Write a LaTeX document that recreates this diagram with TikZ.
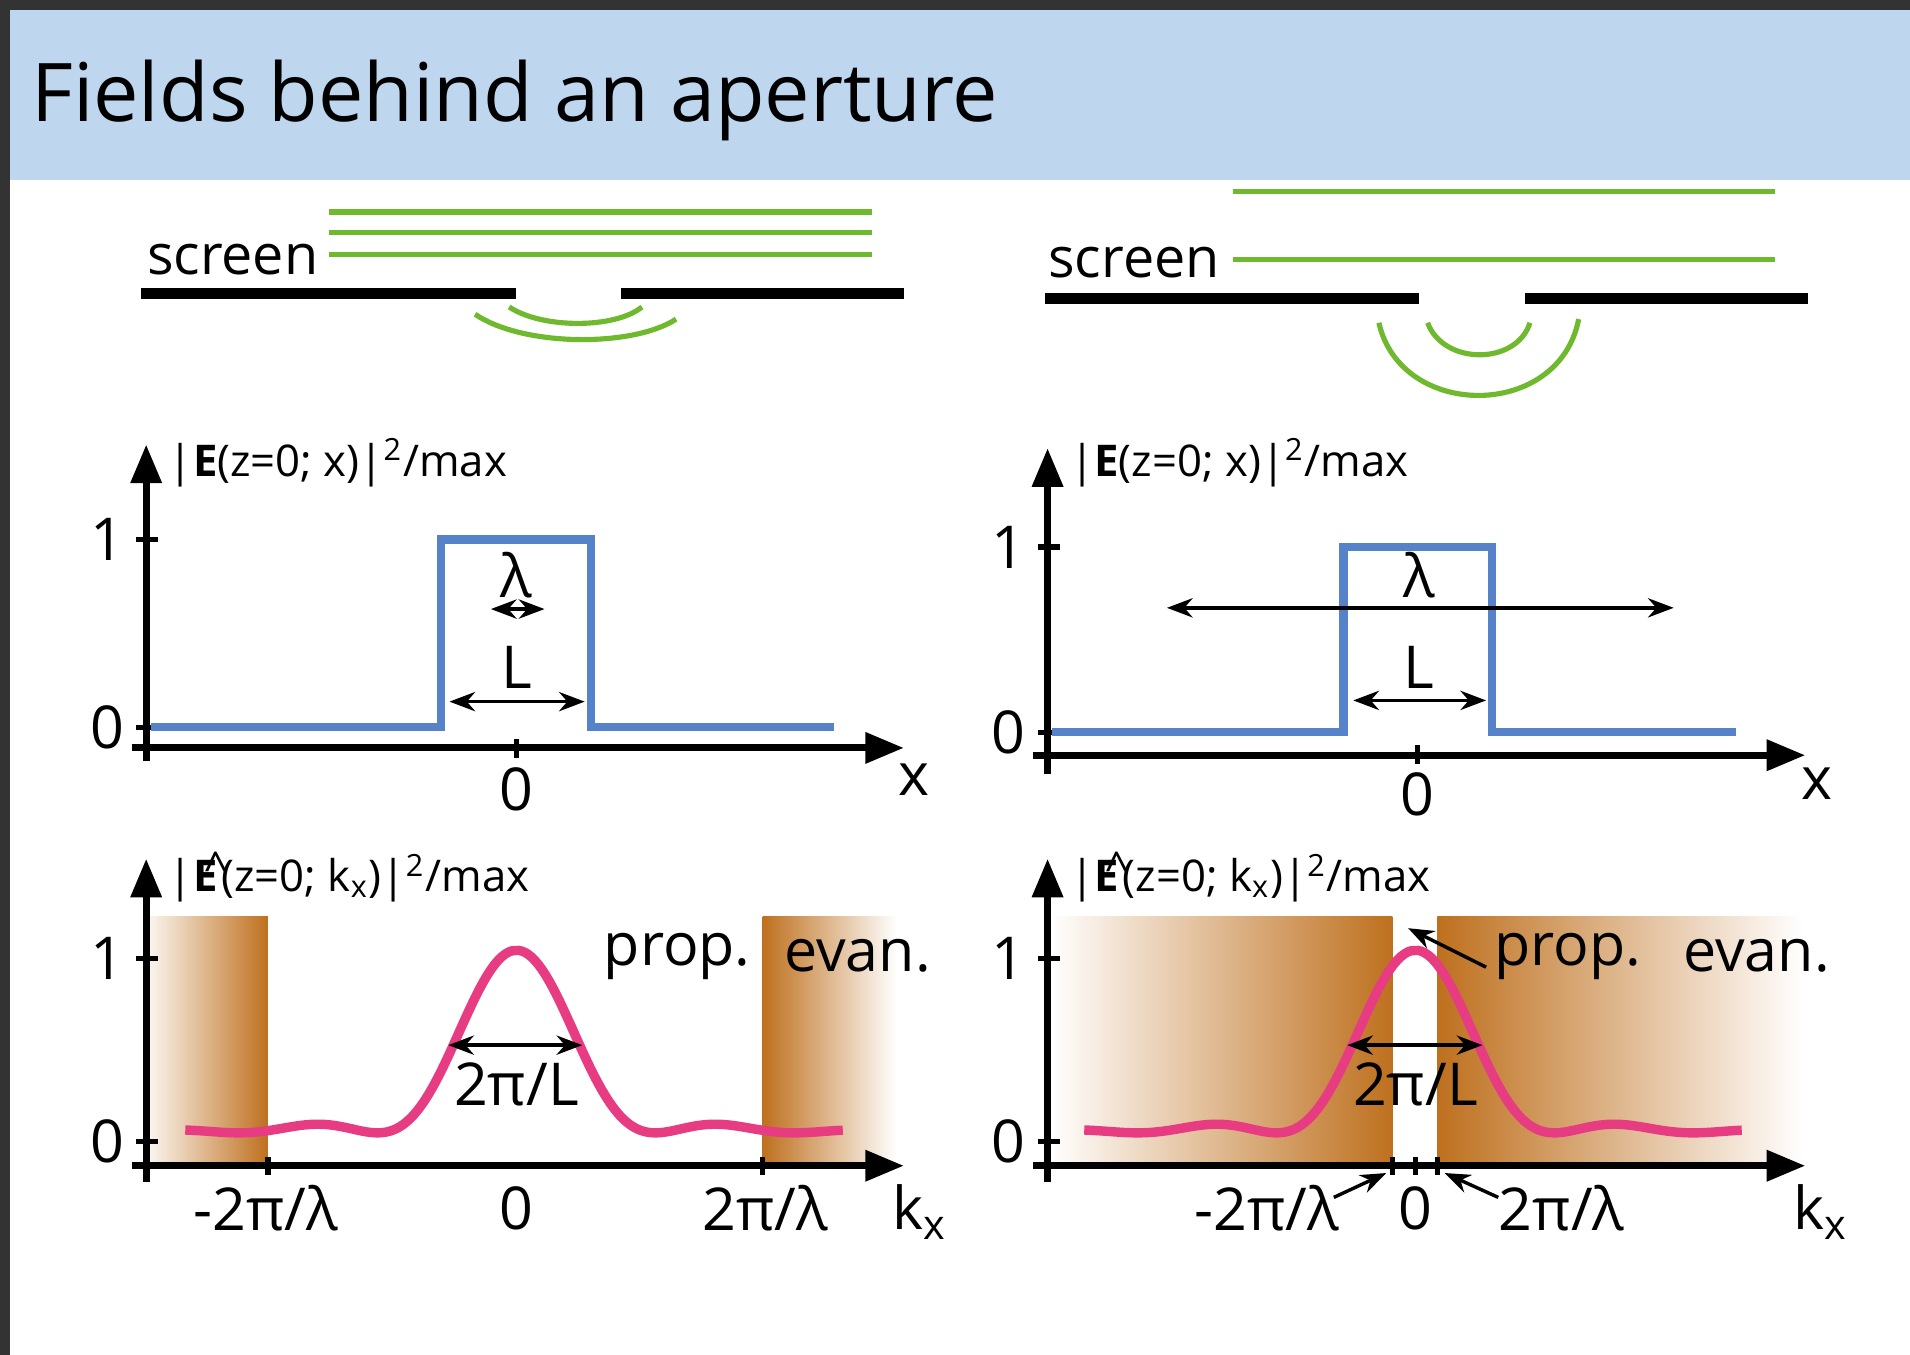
\documentclass[tikz,border=0pt]{standalone}
\usepackage{fontspec}
\setmainfont{Open Sans}
\usetikzlibrary{arrows.meta}
\definecolor{tbar}{RGB}{190,215,238}
\definecolor{grn}{RGB}{110,185,45}
\definecolor{blu}{RGB}{85,130,200}
\definecolor{pnk}{RGB}{232,60,130}
\definecolor{brn}{RGB}{190,112,30}
\newcommand{\hatE}{\textbf{E}\kern-0.3em\raisebox{0.35ex}{\^{}}\kern-0.15em}
\begin{document}
\begin{tikzpicture}[x=0.01cm,y=-0.01cm,
  lbl/.style={inner sep=0pt,font=\fontsize{10.2}{12}\selectfont},
  big/.style={inner sep=0pt,font=\fontsize{13.8}{16}\selectfont},
  axis/.style={line width=1.6pt,-{Triangle[length=9pt,width=7pt]}},
  scr/.style={line width=2.6pt,black},
  gl/.style={line width=1.2pt,grn},
  bl/.style={line width=2pt,blu},
  pk/.style={line width=2.2pt,pnk},
  dim/.style={line width=0.8pt,{Stealth[length=6pt]}-{Stealth[length=6pt]}},
  tk/.style={line width=1.2pt}]
\useasboundingbox (0,0) rectangle (1568,1112);
\fill[white] (0,0) rectangle (1568,1112);
\fill[black!80] (0,0) rectangle (1568,8);
\fill[black!80] (0,0) rectangle (8,1112);
\fill[tbar] (8,8) rectangle (1568,148);
\node[anchor=base west,inner sep=0pt,font=\fontsize{18.9}{22}\selectfont] (title) at (25,100) {Fields behind an aperture};

% ===== LEFT =====
\node[big,anchor=base west,font=\fontsize{13}{15}\selectfont] (scrL) at (120,225) {screen};
\draw[scr] (116,241) -- (424,241) (510,241) -- (742,241);
\foreach \y in {174,191,209} \draw[gl] (270,\y) -- (716,\y);
\draw[gl] (390,258) .. controls (430,285) and (520,285) .. (555,262);
\draw[gl] (418,252) .. controls (445,270) and (505,270) .. (527,252);

\coordinate (yaL0) at (120,625); \coordinate (yaL1) at (120,365);
\draw[axis] (yaL0) -- (yaL1);
\coordinate (xaL0) at (108,614); \coordinate (xaL1) at (742,614);
\draw[axis] (xaL0) -- (xaL1);
\draw[tk] (112,443) -- (130,443) (112,597) -- (130,597) (424,607) -- (424,622);
\node[big] (oneL) at (88,443) {1};
\node[big] (zeroL) at (88,597) {0};
\node[big] (x0L) at (424,648) {0};
\node[big] (xL) at (750,640) {x};
\node[lbl,anchor=west] (labL) at (138,380) {|\textbf{E}(z=0; x)|\textsuperscript{2}/max};
\draw[bl] (124,597) -- (362,597) -- (362,443) -- (485,443) -- (485,597) -- (685,597);
\node[big] (lamL) at (424,472) {λ};
\coordinate (la1) at (403,500); \coordinate (la2) at (447,500);
\draw[dim] (la1) -- (la2);
\node[big] (LL) at (424,548) {L};
\coordinate (L1) at (369,576); \coordinate (L2) at (480,576);
\draw[dim] (L1) -- (L2);

% bottom left
\shade[left color=brn!8,right color=brn] (123,752) rectangle (220,957);
\shade[left color=brn,right color=white] (626,752) rectangle (736,957);
\draw[axis] (120,970) -- (120,705);
\draw[axis] (108,957) -- (742,957);
\draw[tk] (112,787) -- (130,787) (112,937) -- (130,937) (220,950) -- (220,965) (626,950) -- (626,965);
\node[big] (oneLb) at (88,787) {1};
\node[big] (zeroLb) at (88,937) {0};
\draw[pk] plot[domain=-7.49:7.38,samples=200,smooth] ({424+36.3*\x},{930-150*(sin(\x r)/\x)^2});
\node[lbl,anchor=west] (labLb) at (138,720) {|\hatE(z=0; k\textsubscript{x})|\textsuperscript{2}/max};
\node[big] (mL) at (218,992) {-2π/λ};
\node[big] (k0L) at (424,992) {0};
\node[big] (pL) at (628,992) {2π/λ};
\node[big] (kxL) at (755,995) {k\textsubscript{x}};
\coordinate (w1) at (368,858); \coordinate (w2) at (478,858);
\draw[dim] (w1) -- (w2);
\node[big] (wL) at (424,890) {2π/L};
\node[big] (propL) at (556,785) {prop.};
\node[big] (evanL) at (704,785) {evan.};

% ===== RIGHT =====
\node[big,anchor=base west,font=\fontsize{13}{15}\selectfont] (scrR) at (860,228) {screen};
\draw[scr] (858,245) -- (1165,245) (1252,245) -- (1484,245);
\foreach \y in {157,213} \draw[gl] (1012,\y) -- (1457,\y);
\draw[gl] (1132,265) .. controls (1150,345) and (1280,345) .. (1296,262);
\draw[gl] (1172,265) .. controls (1185,300) and (1245,300) .. (1256,265);

\draw[axis] (860,635) -- (860,368);
\draw[axis] (848,620) -- (1482,620);
\draw[tk] (852,449) -- (870,449) (852,601) -- (870,601) (1164,612) -- (1164,627);
\node[big] (oneR) at (828,449) {1};
\node[big] (zeroR) at (828,601) {0};
\node[big] (x0R) at (1164,652) {0};
\node[big] (xR) at (1492,643) {x};
\node[lbl,anchor=west] (labR) at (878,380) {|\textbf{E}(z=0; x)|\textsuperscript{2}/max};
\draw[bl] (864,601) -- (1103,601) -- (1103,449) -- (1225,449) -- (1225,601) -- (1425,601);
\node[big] (lamR) at (1165,472) {λ};
\coordinate (lb1) at (958,499); \coordinate (lb2) at (1374,499);
\draw[dim] (lb1) -- (lb2);
\node[big] (LR) at (1165,548) {L};
\coordinate (L3) at (1111,575); \coordinate (L4) at (1220,575);
\draw[dim] (L3) -- (L4);

% bottom right
\shade[left color=white,right color=brn] (862,752) rectangle (1143,957);
\shade[left color=brn,right color=white] (1180,752) rectangle (1480,957);
\draw[axis] (860,970) -- (860,705);
\draw[axis] (848,957) -- (1482,957);
\draw[tk] (852,787) -- (870,787) (852,937) -- (870,937) (1143,950) -- (1143,965) (1162,950) -- (1162,965) (1180,950) -- (1180,965);
\node[big] (oneRb) at (828,787) {1};
\node[big] (zeroRb) at (828,937) {0};
\draw[pk] plot[domain=-7.49:7.38,samples=200,smooth] ({1162+36.3*\x},{930-150*(sin(\x r)/\x)^2});
\node[lbl,anchor=west] (labRb) at (878,720) {|\hatE(z=0; k\textsubscript{x})|\textsuperscript{2}/max};
\node[big] (mR) at (1040,992) {-2π/λ};
\node[big] (k0R) at (1162,992) {0};
\node[big] (pR) at (1282,992) {2π/λ};
\node[big] (kxR) at (1495,995) {k\textsubscript{x}};
\coordinate (tm) at (1138,963); \coordinate (tp) at (1186,963);
\draw[line width=0.8pt,-{Stealth[length=6pt]}] (1095,983) -- (tm);
\draw[line width=0.8pt,-{Stealth[length=6pt]}] (1230,983) -- (tp);
\coordinate (w3) at (1106,858); \coordinate (w4) at (1217,858);
\draw[dim] (w3) -- (w4);
\node[big] (wR) at (1162,890) {2π/L};
\node[big] (propR) at (1287,785) {prop.};
\node[big] (evanR) at (1442,785) {evan.};
\coordinate (pk) at (1156,762);
\draw[line width=0.8pt,-{Stealth[length=6pt]}] (1220,794) -- (pk);
\end{tikzpicture}
\end{document}
